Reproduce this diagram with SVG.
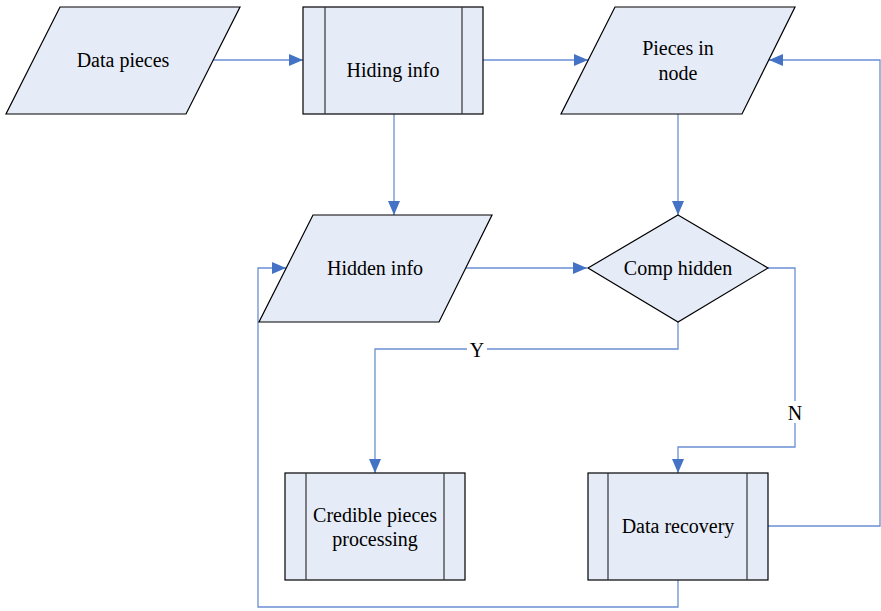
<svg xmlns="http://www.w3.org/2000/svg" width="881" height="611" viewBox="0 0 881 611">
  <style>
    .shape { fill: #E6ECF7; stroke: #000; stroke-width: 1.2; }
    .bar { fill: none; stroke: #333; stroke-width: 1.2; }
    .label { font-family: "Liberation Serif", "Times New Roman", serif; font-size: 20px; fill: #000; text-anchor: middle; dominant-baseline: central; }
    .conn { fill: none; stroke: #6A8FD3; stroke-width: 1.3; }
    .arrow { marker-end: url(#head); }
  </style>
  <defs>
    <marker id="head" markerUnits="userSpaceOnUse" markerWidth="14" markerHeight="12" viewBox="0 0 14 12" refX="14" refY="6" orient="auto">
      <path d="M0,0 L14,6 L0,12 z" fill="#4472C4"/>
    </marker>
  </defs>
  <rect width="881" height="611" fill="#fff"/>

  <!-- connectors -->
  <g id="connectors">
    <path class="conn arrow" d="M213,60 H303"/>
    <path class="conn arrow" d="M483,60 H588"/>
    <path class="conn arrow" d="M394,114 V215"/>
    <path class="conn arrow" d="M678,114 V215"/>
    <path class="conn arrow" d="M466,268 H587"/>
    <path class="conn arrow" d="M678,322 V349 H375 V473"/>
    <path class="conn arrow" d="M768,268 H795 V447 H678 V473"/>
    <path class="conn arrow" d="M768,526 H880 V60 H769"/>
    <path class="conn arrow" d="M678,580 V607 H258 V268 H286"/>
    <rect x="467" y="338" width="20" height="22" fill="#fff"/>
    <text class="label" x="477" y="350">Y</text>
    <rect x="785" y="401" width="20" height="22" fill="#fff"/>
    <text class="label" x="795" y="413">N</text>
  </g>

  <g id="data-pieces">
    <polygon class="shape" points="60,7 240,7 186,114 6,114"/>
    <text class="label" x="123" y="60">Data pieces</text>
  </g>

  <g id="hiding-info">
    <rect class="shape" x="303" y="7" width="180" height="107"/>
    <line class="bar" x1="325" y1="7" x2="325" y2="114"/>
    <line class="bar" x1="462" y1="7" x2="462" y2="114"/>
    <text class="label" x="393" y="70">Hiding info</text>
  </g>

  <g id="pieces-in-node">
    <polygon class="shape" points="615,7 795,7 742,114 561,114"/>
    <text class="label" x="678" y="48">Pieces in</text>
    <text class="label" x="678" y="73">node</text>
  </g>

  <g id="hidden-info">
    <polygon class="shape" points="313,215 492,215 439,322 259,322"/>
    <text class="label" x="375" y="268">Hidden info</text>
  </g>

  <g id="comp-hidden">
    <polygon class="shape" points="678,215 768,268 678,322 588,268"/>
    <text class="label" x="678" y="268">Comp hidden</text>
  </g>

  <g id="credible-processing">
    <rect class="shape" x="285" y="473" width="180" height="107"/>
    <line class="bar" x1="306" y1="473" x2="306" y2="580"/>
    <line class="bar" x1="444" y1="473" x2="444" y2="580"/>
    <text class="label" x="375" y="515">Credible pieces</text>
    <text class="label" x="375" y="539">processing</text>
  </g>

  <g id="data-recovery">
    <rect class="shape" x="588" y="473" width="180" height="107"/>
    <line class="bar" x1="608" y1="473" x2="608" y2="580"/>
    <line class="bar" x1="747" y1="473" x2="747" y2="580"/>
    <text class="label" x="678" y="526">Data recovery</text>
  </g>
</svg>
